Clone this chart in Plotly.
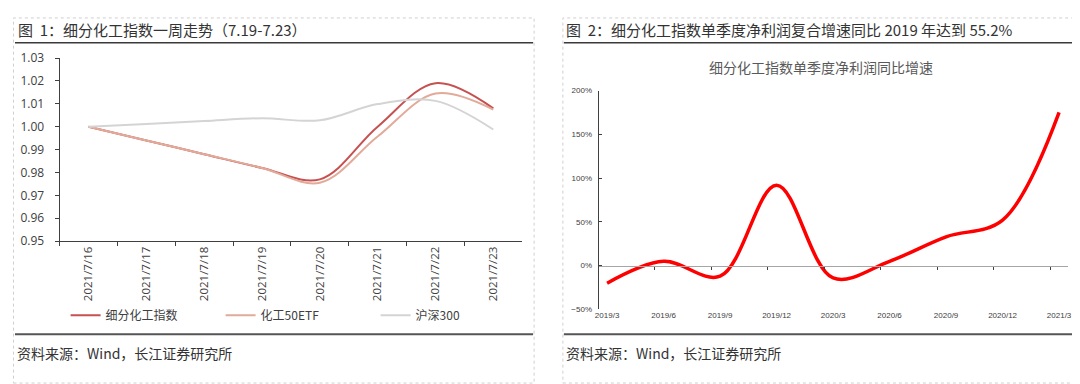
import plotly.graph_objects as go

# ---------------- data ----------------
dates = ["2021/7/16", "2021/7/17", "2021/7/18", "2021/7/19",
         "2021/7/20", "2021/7/21", "2021/7/22", "2021/7/23"]
chem_index = [1.000, 0.994, 0.988, 0.982, 0.977, 1.000, 1.019, 1.008]
chem_etf = [1.000, 0.994, 0.988, 0.982, 0.9755, 0.9957, 1.0145, 1.0075]
hs300 = [1.000, 1.0012, 1.0025, 1.0037, 1.0028, 1.0099, 1.0113, 0.9988]

quarters = ["2019/3", "2019/6", "2019/9", "2019/12", "2020/3",
            "2020/6", "2020/9", "2020/12", "2021/3"]
profit_growth = [-20, 5, -12, 92, -14, 5, 33, 52, 175]  # %

W, H = 1080, 384
def X(px):
    return px / W
def Y(py):
    return 1 - py / H

CJK = "Noto Sans CJK SC, Microsoft YaHei, sans-serif"

fig = go.Figure()

# ---------------- left chart ----------------
fig.add_trace(go.Scatter(x=dates, y=chem_index, name="细分化工指数", mode="lines",
                         line=dict(color="#C65150", width=2, shape="spline"),
                         xaxis="x", yaxis="y"))
fig.add_trace(go.Scatter(x=dates, y=chem_etf, name="化工50ETF", mode="lines",
                         line=dict(color="#E2AA98", width=2, shape="spline"),
                         xaxis="x", yaxis="y"))
fig.add_trace(go.Scatter(x=dates, y=hs300, name="沪深300", mode="lines",
                         line=dict(color="#D4D4D4", width=2, shape="spline"),
                         xaxis="x", yaxis="y"))

# ---------------- right chart ----------------
qx = list(range(len(quarters)))
fig.add_trace(go.Scatter(x=qx, y=profit_growth, mode="lines", showlegend=False,
                         line=dict(color="#FF0000", width=3.5, shape="spline"),
                         xaxis="x2", yaxis="y2"))
# invisible trace so the zero-line axis is drawn
fig.add_trace(go.Scatter(x=[0], y=[0], mode="markers", showlegend=False,
                         marker=dict(opacity=0), hoverinfo="skip",
                         xaxis="x3", yaxis="y2"))

y2_lo, y2_hi = -50, 200
y2_dom = [Y(306), Y(77)]
zero_pos = y2_dom[0] + (0 - y2_lo) / (y2_hi - y2_lo) * (y2_dom[1] - y2_dom[0])
xr = [-0.15, 8.16]

fig.update_layout(
    width=W, height=H,
    margin=dict(l=0, r=0, t=0, b=0),
    paper_bgcolor="white", plot_bgcolor="white",
    font=dict(family=CJK, color="#333333"),
    showlegend=True,
    legend=dict(orientation="h", x=X(54), y=Y(312), xanchor="left", yanchor="middle",
                entrywidth=110, entrywidthmode="pixels",
                font=dict(size=12, color="#404040", family=CJK),
                bgcolor="rgba(0,0,0,0)"),
    xaxis=dict(domain=[X(48), X(514)], anchor="y", type="category",
               range=[-0.5, 7.5], showline=True, linecolor="#404040", linewidth=1,
               ticks="outside", ticklen=4, tickcolor="#404040", tickson="boundaries",
               tickangle=-90, tickfont=dict(size=11.5, color="#404040", family="Open Sans, sans-serif"),
               showgrid=False, zeroline=False, fixedrange=True),
    yaxis=dict(domain=[Y(234.5), Y(43)], anchor="x", range=[0.95, 1.03], dtick=0.01,
               tickformat=".2f", showline=True, linecolor="#404040", linewidth=1,
               ticks="outside", ticklen=4, tickcolor="#404040", ticklabelstandoff=8,
               tickfont=dict(size=12, color="#404040", family="Open Sans, sans-serif"),
               showgrid=False, zeroline=False),
    xaxis2=dict(domain=[X(591), X(1064)], anchor="y2", range=xr,
                tickvals=qx, ticktext=quarters, showline=False, ticks="",
                tickfont=dict(size=8, color="#404040", family="Liberation Sans, Arial, sans-serif"),
                showgrid=False, zeroline=False),
    xaxis3=dict(overlaying="x2", anchor="free", position=zero_pos, range=xr,
                tickvals=[k - 0.16 for k in range(1, 9)], showticklabels=False,
                showline=True, linecolor="#A6A6A6", linewidth=1,
                ticks="outside", ticklen=3, tickcolor="#404040",
                showgrid=False, zeroline=False),
    yaxis2=dict(domain=y2_dom, anchor="x2", range=[y2_lo, y2_hi], dtick=50,
                ticksuffix="%", showline=True, linecolor="#404040", linewidth=1,
                ticks="inside", ticklen=3, tickcolor="#404040", ticklabelstandoff=4,
                tickfont=dict(size=8, color="#404040", family="Liberation Sans, Arial, sans-serif"),
                showgrid=False, zeroline=False),
)

shapes = []
# panel dotted borders
for x0, x1 in [(1.5, 526), (555, 1079)]:
    shapes.append(dict(type="rect", xref="paper", yref="paper",
                       x0=X(x0), x1=X(x1), y0=Y(383), y1=Y(1),
                       line=dict(color="#CFCFCF", width=1, dash="dot")))
# title underlines and bottom rules
for x0, x1 in [(3, 525), (556, 1080)]:
    shapes.append(dict(type="line", xref="paper", yref="paper",
                       x0=X(x0), x1=X(x1), y0=Y(27), y1=Y(27),
                       line=dict(color="#3A3A3A", width=1.5)))
    shapes.append(dict(type="line", xref="paper", yref="paper",
                       x0=X(x0), x1=X(x1), y0=Y(332), y1=Y(332),
                       line=dict(color="#555555", width=2)))
fig.update_layout(shapes=shapes)

annotations = [
    dict(text="图  1：细分化工指数一周走势（7.19-7.23）", x=X(4), y=Y(13),
         font=dict(size=15, color="#333333", family=CJK)),
    dict(text="图  2：细分化工指数单季度净利润复合增速同比 2019 年达到 55.2%", x=X(556), y=Y(13),
         font=dict(size=15, color="#333333", family=CJK)),
    dict(text="资料来源：Wind，长江证券研究所", x=X(3), y=Y(352),
         font=dict(size=14, color="#333333", family=CJK)),
    dict(text="资料来源：Wind，长江证券研究所", x=X(556), y=Y(352),
         font=dict(size=14, color="#333333", family=CJK)),
]
for a in annotations:
    a.update(xref="paper", yref="paper", xanchor="left", yanchor="middle", showarrow=False)
annotations.append(dict(text="细分化工指数单季度净利润同比增速", x=X(815), y=Y(52),
                        xref="paper", yref="paper", xanchor="center", yanchor="middle",
                        showarrow=False, font=dict(size=14, color="#595959", family=CJK)))
fig.update_layout(annotations=annotations)

fig.write_html("out.html")
